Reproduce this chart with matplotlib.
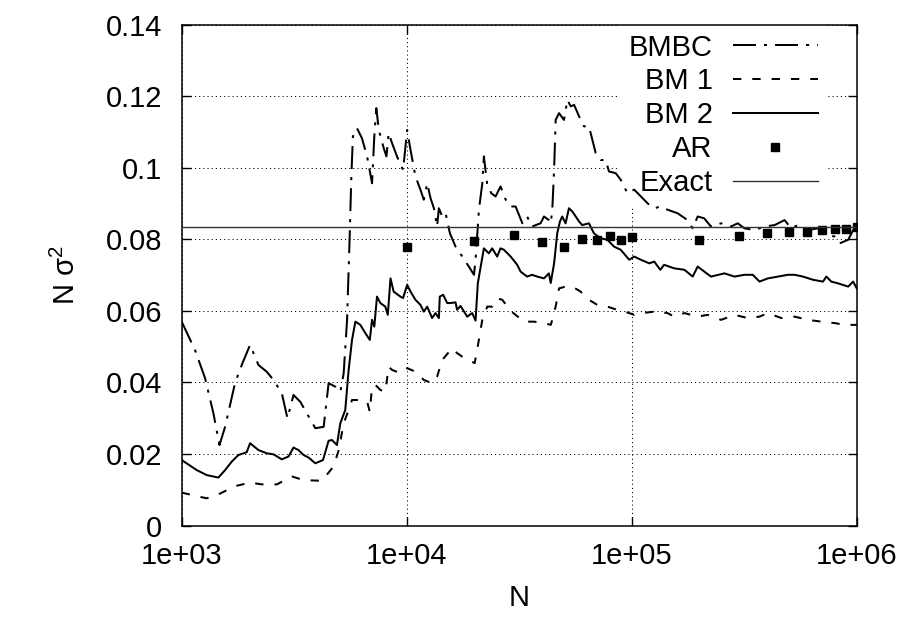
import numpy as np
import matplotlib
matplotlib.use('Agg')
import matplotlib.pyplot as plt
from matplotlib.ticker import FixedLocator, NullLocator

# 字体设置 (Helvetica 风格)
plt.rcParams['font.family'] = ['Liberation Sans', 'DejaVu Sans']
plt.rcParams['mathtext.default'] = 'regular'
plt.rcParams['lines.scale_dashes'] = False

# 数据 (x 为 log10 N)
bmbc_logN = [3.0, 3.059, 3.104, 3.141, 3.168, 3.193, 3.237, 3.267, 3.304, 3.341, 3.378, 3.408,
             3.445, 3.470, 3.497, 3.527, 3.556, 3.594, 3.631, 3.653, 3.683, 3.705, 3.720, 3.735,
             3.747, 3.754, 3.761, 3.779, 3.801, 3.824, 3.846, 3.856, 3.865, 3.876, 3.898, 3.910,
             3.920, 3.935, 3.957, 3.984, 4.002, 4.017, 4.039, 4.061, 4.076, 4.091, 4.106, 4.121,
             4.135, 4.143, 4.158, 4.173, 4.192, 4.217, 4.247, 4.276, 4.299, 4.306, 4.321, 4.336,
             4.343, 4.358, 4.376, 4.395, 4.417, 4.440, 4.462, 4.484, 4.514, 4.535, 4.557, 4.595,
             4.610, 4.632, 4.640, 4.647, 4.655, 4.662, 4.677, 4.699, 4.714, 4.729, 4.744, 4.766,
             4.788, 4.810, 4.840, 4.862, 4.884, 4.899, 4.929, 4.951, 4.981, 5.011, 5.041, 5.070,
             5.100, 5.129, 5.159, 5.204, 5.248, 5.271, 5.293, 5.322, 5.352, 5.397, 5.441, 5.471,
             5.501, 5.546, 5.590, 5.635, 5.679, 5.709, 5.739, 5.783, 5.828, 5.865, 5.902, 5.924,
             5.962, 5.984, 6.0]
bmbc = [0.0570, 0.0491, 0.0412, 0.0314, 0.0225, 0.0276, 0.0398, 0.0449, 0.0505, 0.0449, 0.0430, 0.0407,
        0.0370, 0.0300, 0.0365, 0.0346, 0.0314, 0.0272, 0.0276, 0.0398, 0.0388, 0.0374, 0.0426, 0.0575,
        0.0817, 0.0976, 0.1088, 0.1111, 0.1083, 0.1032, 0.0957, 0.1088, 0.1167, 0.1106, 0.1055, 0.1032,
        0.1097, 0.1069, 0.1032, 0.0994, 0.1106, 0.1050, 0.0976, 0.0939, 0.0911, 0.0957, 0.0915, 0.0887,
        0.0836, 0.0887, 0.0864, 0.0873, 0.0817, 0.0780, 0.0752, 0.0724, 0.0701, 0.0743, 0.0883, 0.0957,
        0.1032, 0.0953, 0.0929, 0.0920, 0.0948, 0.0911, 0.0892, 0.0892, 0.0845, 0.0864, 0.0836, 0.0845,
        0.0864, 0.0854, 0.0845, 0.0883, 0.0994, 0.1134, 0.1153, 0.1134, 0.1190, 0.1172, 0.1176, 0.1144,
        0.1116, 0.1116, 0.1041, 0.1022, 0.1022, 0.0990, 0.0985, 0.0967, 0.0929, 0.0939, 0.0920, 0.0901,
        0.0887, 0.0892, 0.0883, 0.0873, 0.0854, 0.0831, 0.0864, 0.0859, 0.0836, 0.0845, 0.0836, 0.0845,
        0.0831, 0.0826, 0.0836, 0.0840, 0.0854, 0.0831, 0.0840, 0.0826, 0.0831, 0.0812, 0.0808, 0.0789,
        0.0799, 0.0826, 0.0836]

bm1_logN = [3.0, 3.111, 3.163, 3.237, 3.304, 3.356, 3.423, 3.490, 3.542, 3.623, 3.675, 3.698,
            3.720, 3.742, 3.757, 3.794, 3.824, 3.836, 3.846, 3.861, 3.883, 3.905, 3.920, 3.935,
            3.972, 4.002, 4.039, 4.076, 4.113, 4.135, 4.158, 4.202, 4.224, 4.247, 4.302, 4.313,
            4.336, 4.358, 4.380, 4.402, 4.425, 4.462, 4.521, 4.565, 4.610, 4.640, 4.647, 4.662,
            4.677, 4.706, 4.736, 4.773, 4.810, 4.847, 4.892, 4.936, 4.989, 5.011, 5.048, 5.100,
            5.159, 5.189, 5.234, 5.293, 5.337, 5.397, 5.457, 5.516, 5.568, 5.605, 5.665, 5.724,
            5.783, 5.843, 5.902, 5.947, 6.0]
bm1 = [0.0092, 0.0076, 0.0087, 0.0110, 0.0120, 0.0115, 0.0115, 0.0137, 0.0127, 0.0125, 0.0165, 0.0211,
       0.0286, 0.0323, 0.0351, 0.0351, 0.0347, 0.0318, 0.0388, 0.0393, 0.0379, 0.0374, 0.0444, 0.0435,
       0.0426, 0.0440, 0.0430, 0.0407, 0.0398, 0.0416, 0.0463, 0.0496, 0.0482, 0.0472, 0.0454, 0.0491,
       0.0575, 0.0612, 0.0612, 0.0635, 0.0631, 0.0600, 0.0570, 0.0570, 0.0566, 0.0561, 0.0575, 0.0612,
       0.0663, 0.0668, 0.0668, 0.0654, 0.0631, 0.0617, 0.0612, 0.0603, 0.0594, 0.0589, 0.0594, 0.0598,
       0.0594, 0.0584, 0.0594, 0.0584, 0.0589, 0.0575, 0.0589, 0.0580, 0.0584, 0.0594, 0.0580, 0.0584,
       0.0575, 0.0570, 0.0566, 0.0561, 0.0561]

bm2_logN = [3.0, 3.067, 3.111, 3.163, 3.193, 3.223, 3.252, 3.289, 3.304, 3.341, 3.378, 3.408,
            3.445, 3.475, 3.497, 3.519, 3.542, 3.564, 3.594, 3.628, 3.653, 3.668, 3.690, 3.705,
            3.727, 3.742, 3.757, 3.772, 3.794, 3.816, 3.836, 3.846, 3.856, 3.868, 3.883, 3.905,
            3.916, 3.928, 3.942, 3.972, 3.984, 4.002, 4.017, 4.039, 4.061, 4.076, 4.091, 4.113,
            4.128, 4.143, 4.147, 4.162, 4.180, 4.195, 4.217, 4.224, 4.239, 4.269, 4.291, 4.306,
            4.316, 4.343, 4.365, 4.380, 4.402, 4.417, 4.432, 4.462, 4.491, 4.506, 4.535, 4.557,
            4.580, 4.610, 4.632, 4.640, 4.655, 4.669, 4.681, 4.691, 4.706, 4.721, 4.736, 4.766,
            4.780, 4.810, 4.832, 4.862, 4.892, 4.921, 4.951, 4.989, 5.011, 5.041, 5.078, 5.100,
            5.127, 5.144, 5.189, 5.234, 5.271, 5.293, 5.352, 5.412, 5.457, 5.501, 5.538, 5.568,
            5.605, 5.650, 5.694, 5.724, 5.761, 5.806, 5.850, 5.865, 5.887, 5.917, 5.962, 5.984,
            6.0]
bm2 = [0.0183, 0.0155, 0.0141, 0.0134, 0.0155, 0.0179, 0.0197, 0.0205, 0.0230, 0.0211, 0.0202, 0.0199,
       0.0185, 0.0193, 0.0218, 0.0211, 0.0197, 0.0190, 0.0174, 0.0183, 0.0237, 0.0239, 0.0225, 0.0286,
       0.0323, 0.0435, 0.0519, 0.0570, 0.0561, 0.0538, 0.0519, 0.0575, 0.0556, 0.0640, 0.0622, 0.0612,
       0.0589, 0.0691, 0.0654, 0.0640, 0.0636, 0.0673, 0.0654, 0.0631, 0.0617, 0.0598, 0.0612, 0.0580,
       0.0594, 0.0580, 0.0640, 0.0645, 0.0622, 0.0622, 0.0624, 0.0603, 0.0614, 0.0584, 0.0594, 0.0573,
       0.0677, 0.0775, 0.0761, 0.0775, 0.0752, 0.0775, 0.0771, 0.0752, 0.0729, 0.0710, 0.0696, 0.0701,
       0.0696, 0.0691, 0.0705, 0.0678, 0.0733, 0.0817, 0.0850, 0.0864, 0.0845, 0.0887, 0.0878, 0.0850,
       0.0840, 0.0845, 0.0817, 0.0803, 0.0799, 0.0780, 0.0771, 0.0743, 0.0752, 0.0743, 0.0733, 0.0738,
       0.0715, 0.0729, 0.0719, 0.0715, 0.0696, 0.0724, 0.0696, 0.0705, 0.0696, 0.0701, 0.0701, 0.0682,
       0.0691, 0.0696, 0.0701, 0.0701, 0.0696, 0.0687, 0.0682, 0.0696, 0.0682, 0.0677, 0.0668, 0.0682,
       0.0663]

ar_N = [1e4, 2e4, 3e4, 4e4, 5e4, 6e4, 7e4, 8e4, 9e4, 1e5,
        2e5, 3e5, 4e5, 5e5, 6e5, 7e5, 8e5, 9e5, 1e6]
ar = [0.0780, 0.0796, 0.0812, 0.0794, 0.0780, 0.0800, 0.0797, 0.0810, 0.0797, 0.0806,
      0.0799, 0.0810, 0.0817, 0.0822, 0.0820, 0.0825, 0.0828, 0.0830, 0.0834]

exact = 1.0 / 12

x_ticks = [1e3, 1e4, 1e5, 1e6]
x_ticklabels = ['1e+03', '1e+04', '1e+05', '1e+06']
y_ticks = [0, 0.02, 0.04, 0.06, 0.08, 0.1, 0.12, 0.14]
y_ticklabels = ['0', '0.02', '0.04', '0.06', '0.08', '0.1', '0.12', '0.14']

fig = plt.figure(figsize=(9.07, 6.2), dpi=100)
ax = fig.add_axes([0.2003, 0.1524, 0.7443, 0.8076])

ax.plot(np.power(10, bmbc_logN), bmbc, color='black', lw=1.45,
        dashes=(16.5, 5.8, 2.2, 5.8), label='BMBC', zorder=3)
ax.plot(np.power(10, bm1_logN), bm1, color='black', lw=1.45,
        dashes=(6, 7.9), label='BM 1', zorder=3)
ax.plot(np.power(10, bm2_logN), bm2, color='black', lw=1.45, label='BM 2', zorder=3)
ax.plot(ar_N, ar, 's', color='black', ms=6, label='AR', zorder=3)
ax.axhline(exact, color='#333333', lw=1.0, label='Exact', zorder=3)

ax.set_xscale('log')
ax.set_xlim(1e3, 1e6)
ax.set_ylim(0, 0.14)
ax.xaxis.set_major_locator(FixedLocator(x_ticks))
ax.xaxis.set_minor_locator(NullLocator())
ax.set_xticklabels(x_ticklabels)
ax.set_yticks(y_ticks)
ax.set_yticklabels(y_ticklabels)

ax.tick_params(direction='in', length=6.5, width=1, top=True, right=True,
               labelsize=21)
ax.tick_params(axis='y', pad=14)
ax.tick_params(axis='x', pad=12)
for s in ax.spines.values():
    s.set_linewidth(1.1)

ax.grid(True, color='black', lw=0.7, linestyle=(0, (0.8, 2.2)))
ax.set_axisbelow(True)

ax.set_xlabel('N', fontsize=21, labelpad=10)
ax.set_ylabel(r'N $\mathregular{\sigma^2}$', fontsize=21, labelpad=18)

# 图例: 白底遮住网格, 但曲线画在其上
leg = ax.legend(loc='upper right', bbox_to_anchor=(0.955, 1.0), fontsize=21,
                frameon=True, fancybox=False, edgecolor='none', facecolor='white',
                framealpha=1, markerfirst=False, handlelength=2.9, handletextpad=0.7,
                labelspacing=0.2, borderpad=0.3, borderaxespad=0)
for t in leg.get_texts():
    t.set_ha('right')
leg._legend_box.align = 'right'
leg.set_zorder(2)

fig.savefig('out.png', dpi=100)
